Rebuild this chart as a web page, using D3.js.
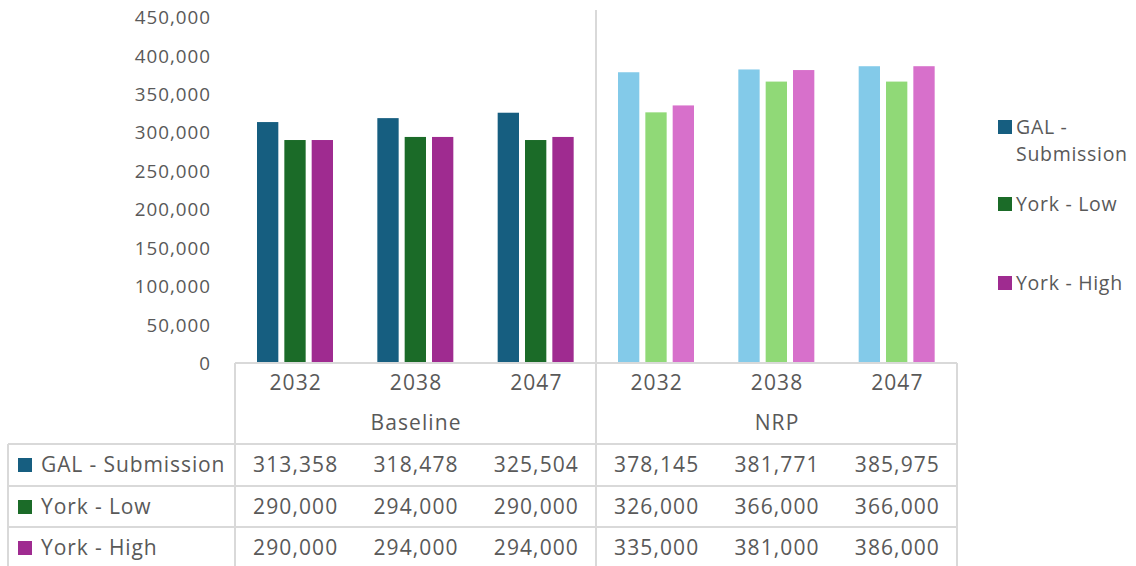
<!DOCTYPE html>
<html><head><meta charset="utf-8">
<script src="https://cdn.jsdelivr.net/npm/d3@7"></script>
<style>body{margin:0;background:#fff}svg{display:block}text{font-family:"Open Sans",sans-serif;fill:#595959}</style>
</head><body><svg id="c" width="1136" height="566"></svg>
<script>
const groups = ["Baseline","NRP"];
const years = ["2032","2038","2047"];
const series = ["GAL - Submission","York - Low","York - High"];
const galValues = [313358,318478,325504,378145,381771,385975];
const lowValues = [290000,294000,290000,326000,366000,366000];
const highValues = [290000,294000,294000,335000,381000,386000];
const yTicks = [0,50000,100000,150000,200000,250000,300000,350000,400000,450000];
const darkColors = ["#165e80","#1b6b28","#9f2b90"];
const lightColors = ["#83cae9","#90d977","#d770cb"];

const values = [galValues, lowValues, highValues];
const cats = [];
groups.forEach(g => years.forEach(y => cats.push({g, y, key: g + "|" + y})));

const svg = d3.select("#c");
const tfs = 21, tls = 1.1;   // table text
const afs = 18.8, als = 1.0; // axis text
const lfs = 19.5, lls = 0.7; // legend text
const x0 = d3.scaleBand().domain(cats.map(c=>c.key)).range([235,957]);
const x1 = d3.scaleBand().domain(series).range([22,98]).paddingInner(0.22);
const y = d3.scaleLinear().domain([0,450000]).range([363,17]);
const fmt = d3.format(",");

// y axis labels
const ya = svg.append("g").attr("transform","translate(211,0)")
  .call(d3.axisLeft(y).tickValues(yTicks).tickSize(0).tickPadding(0).tickFormat(fmt));
ya.select(".domain").remove();
ya.selectAll("text").attr("font-size",afs).attr("letter-spacing",als).attr("font-family","Open Sans").attr("fill","#595959").attr("dy","0.35em");

// bars
cats.forEach((c,ci) => {
  series.forEach((s,si) => {
    const v = values[si][ci];
    const col = (c.g === "Baseline" ? darkColors : lightColors)[si];
    svg.append("rect")
      .attr("x", x0(c.key) + x1(s))
      .attr("width", x1.bandwidth())
      .attr("y", y(v))
      .attr("height", y(0) - y(v))
      .attr("fill", col);
  });
});

// table grid
const lc = "#d9d9d9";
const bottom = 570;
const rowTops = [444,486,527];
const gl = svg.append("g").attr("stroke",lc).attr("stroke-width",2);
gl.append("line").attr("x1",235).attr("x2",957).attr("y1",363).attr("y2",363);
rowTops.forEach(t => gl.append("line").attr("x1",8).attr("x2",957).attr("y1",t).attr("y2",t));
gl.append("line").attr("x1",8).attr("x2",8).attr("y1",444).attr("y2",bottom);
gl.append("line").attr("x1",235).attr("x2",235).attr("y1",363).attr("y2",bottom);
gl.append("line").attr("x1",x0(cats[3].key)).attr("x2",x0(cats[3].key)).attr("y1",10).attr("y2",bottom);
gl.append("line").attr("x1",957).attr("x2",957).attr("y1",363).attr("y2",bottom);

function ctext(x, yy, str, fs, ls) {
  return svg.append("text").attr("x", x + ls/2).attr("y", yy).attr("dy","0.35em")
    .attr("text-anchor","middle").attr("font-size",fs).attr("letter-spacing",ls).text(str);
}

// year labels
cats.forEach(c => ctext(x0(c.key)+x0.bandwidth()/2, 383, c.y, tfs, tls));
groups.forEach((g,gi) => {
  const a = x0(cats[gi*3].key), b = x0(cats[gi*3+2].key)+x0.bandwidth();
  ctext((a+b)/2, 423, g, tfs, tls);
});

// table rows
series.forEach((s,si) => {
  const cy = rowTops[si] + 21;
  svg.append("rect").attr("x",18).attr("y",cy-7).attr("width",14).attr("height",14).attr("fill",darkColors[si]);
  svg.append("text").attr("x",41).attr("y",cy).attr("dy","0.35em").attr("font-size",tfs).attr("letter-spacing",0.9).text(s);
  cats.forEach((c,ci) => ctext(x0(c.key)+x0.bandwidth()/2, cy, fmt(values[si][ci]), tfs, tls));
});

// legend
const legY = [127,204,283];
const legLines = [["GAL -","Submission"],["York - Low"],["York - High"]];
series.forEach((s,si) => {
  svg.append("rect").attr("x",998).attr("y",legY[si]-7).attr("width",14).attr("height",14).attr("fill",darkColors[si]);
  const t = svg.append("text").attr("x",1016).attr("y",legY[si]).attr("font-size",lfs).attr("letter-spacing",lls);
  legLines[si].forEach((ln,li) => t.append("tspan").attr("x",1016).attr("dy", li===0 ? "0.35em" : "1.4em").text(ln));
});
</script></body></html>
